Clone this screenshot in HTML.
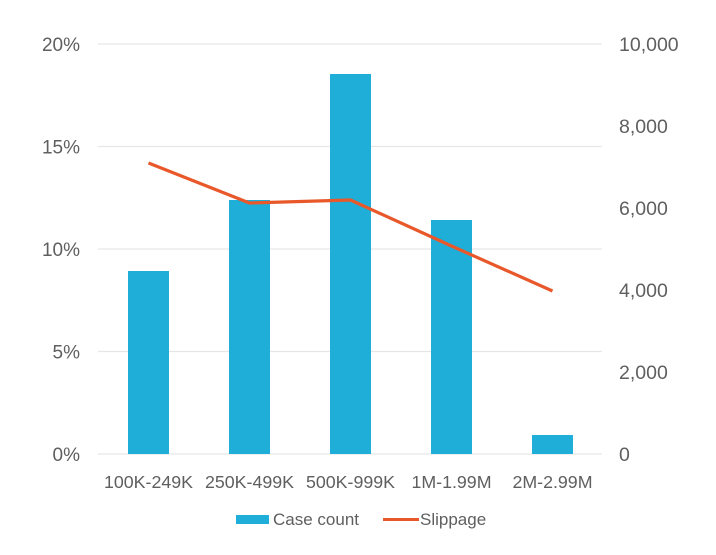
<!DOCTYPE html>
<html><head><meta charset="utf-8"><style>
html,body{margin:0;padding:0;background:#fff;}
svg text{font-family:"Liberation Sans",sans-serif;fill:#5f5f5f;}
</style></head><body>
<svg width="716" height="550" xmlns="http://www.w3.org/2000/svg">
<g stroke="#e6e6e6" stroke-width="1.3">
<line x1="98" x2="602" y1="44" y2="44"/>
<line x1="98" x2="602" y1="146.5" y2="146.5"/>
<line x1="98" x2="602" y1="249" y2="249"/>
<line x1="98" x2="602" y1="351.5" y2="351.5"/>
<line x1="98" x2="602" y1="454" y2="454"/>
</g>
<g font-size="19" text-anchor="end">
<text x="80" y="51">20%</text>
<text x="80" y="153.5">15%</text>
<text x="80" y="256">10%</text>
<text x="80" y="358.5">5%</text>
<text x="80" y="461">0%</text>
</g>
<g font-size="19.5" text-anchor="start">
<text x="619" y="51">10,000</text>
<text x="619" y="133">8,000</text>
<text x="619" y="215">6,000</text>
<text x="619" y="297">4,000</text>
<text x="619" y="379">2,000</text>
<text x="619" y="461">0</text>
</g>
<g fill="#1FAED8">
<rect x="128" y="271" width="41" height="183"/>
<rect x="229" y="200" width="41" height="254"/>
<rect x="330" y="74" width="41" height="380"/>
<rect x="431" y="220" width="41" height="234"/>
<rect x="532" y="435" width="41" height="19"/>
</g>
<polyline points="148.5,163 249.5,203 350.5,200 451.5,246 552.5,291" fill="none" stroke="#E8582A" stroke-width="3.2" stroke-linejoin="round"/>
<g font-size="17.8" text-anchor="middle">
<text x="148.5" y="488">100K-249K</text>
<text x="249.5" y="488">250K-499K</text>
<text x="350.5" y="488">500K-999K</text>
<text x="451.5" y="488">1M-1.99M</text>
<text x="552.5" y="488">2M-2.99M</text>
</g>
<rect x="236" y="515" width="33" height="9" fill="#1FAED8"/>
<text x="273" y="525" font-size="17">Case count</text>
<line x1="383" x2="419" y1="519.5" y2="519.5" stroke="#E8582A" stroke-width="3"/>
<text x="420" y="525" font-size="17">Slippage</text>
</svg>
</body></html>
